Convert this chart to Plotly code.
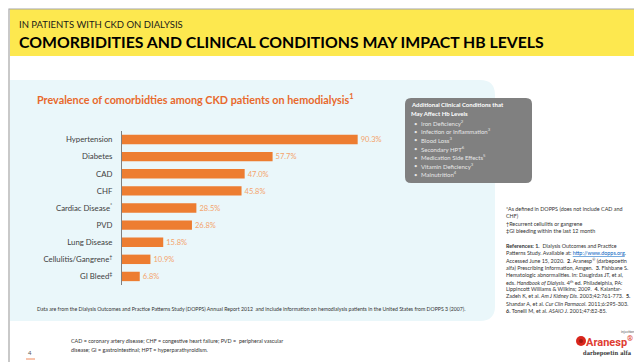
import plotly.graph_objects as go

W, H = 642, 362
FONT = "Lato"

categories = ["Hypertension", "Diabetes", "CAD", "CHF", "Cardiac Disease<sup>*</sup>",
              "PVD", "Lung Disease", "Cellulitis/Gangrene<sup>†</sup>", "GI Bleed<sup>‡</sup>"]
values = [90.3, 57.7, 47.0, 45.8, 28.5, 26.8, 15.8, 10.9, 6.8]

header_small = "IN PATIENTS WITH CKD ON DIALYSIS"
header_big = "COMORBIDITIES AND CLINICAL CONDITIONS MAY IMPACT HB LEVELS"
chart_title = "Prevalence of comorbidties among CKD patients on hemodialysis<sup>1</sup>"

box_heading = ["Additional Clinical Conditions that", "May Affect Hb Levels"]
box_items = ["Iron Deficiency<sup>2</sup>", "Infection or Inflammation<sup>3</sup>",
             "Blood Loss<sup>3</sup>", "Secondary HPT<sup>6</sup>",
             "Medication Side Effects<sup>5</sup>", "Vitamin Deficiency<sup>3</sup>",
             "Malnutrition<sup>4</sup>"]

footnotes = ["*As defined in DOPPS (does not include CAD and", "CHF)",
             "†Recurrent cellulitis or gangrene", "‡GI bleeding within the last 12 month"]

references = [
    "<b>References: 1.</b>  Dialysis Outcomes and Practice",
    "Patterns Study. Available at: <span style='color:#0563C1'><u>http://www.dopps.org</u></span>.",
    "Accessed June 15, 2020.  <b>2.</b> Aranesp<sup>®</sup> (darbepoetin",
    "alfa) Prescribing Information, Amgen.  <b>3.</b> Fishbane S.",
    "Hematologic abnormalities. In: Daugirdas JT, et al,",
    "eds. <i>Handbook of Dialysis</i>. 4<sup>th</sup> ed. Philadelphia, PA:",
    "Lippincott Williams &amp; Wilkins; 2009.  <b>4.</b> Kalantar-",
    "Zadeh K, et al. <i>Am J Kidney Dis</i>. 2003;42:761-773.  <b>5.</b>",
    "Shandar A, et al. <i>Cur Clin Parmacol</i>. 2011;6:295-303.",
    "<b>6.</b> Tonelli M, et al. <i>ASAIO J</i>. 2001;47:82-85.",
]

data_note = ("Data are from the Dialysis Outcomes and Practice Patterns Study (DOPPS) Annual Report 2012  "
             "and include information on hemodialysis patients in the United States from DOPPS 3 (2007).")
abbrev = ["CAD = coronary artery disease; CHF = congestive heart failure; PVD =  peripheral vascular",
          "disease; GI = gastrointestinal; HPT = hyperparathyroidism."]


def X(px):
    return px / W


def Y(py):
    return 1 - py / H


def rpath(x0, y0, x1, y1, r, left_round=True):
    pts = []
    if left_round:
        pts.append(f"M {X(x0 + r)},{Y(y0)}")
    else:
        pts.append(f"M {X(x0)},{Y(y0)}")
    pts.append(f"L {X(x1 - r)},{Y(y0)}")
    pts.append(f"Q {X(x1)},{Y(y0)} {X(x1)},{Y(y0 + r)}")
    pts.append(f"L {X(x1)},{Y(y1 - r)}")
    pts.append(f"Q {X(x1)},{Y(y1)} {X(x1 - r)},{Y(y1)}")
    if left_round:
        pts.append(f"L {X(x0 + r)},{Y(y1)}")
        pts.append(f"Q {X(x0)},{Y(y1)} {X(x0)},{Y(y1 - r)}")
        pts.append(f"L {X(x0)},{Y(y0 + r)}")
        pts.append(f"Q {X(x0)},{Y(y0)} {X(x0 + r)},{Y(y0)}")
    else:
        pts.append(f"L {X(x0)},{Y(y1)}")
    pts.append("Z")
    return " ".join(pts)


fig = go.Figure()
fig.add_trace(go.Bar(
    y=categories, x=values, orientation="h",
    marker=dict(color="#ED7D31", line=dict(width=0)),
    texttemplate="%{x:.1f}%", textposition="outside",
    textfont=dict(family=FONT, size=8, color="#F4A46C"),
    cliponaxis=False, hoverinfo="skip",
))

shapes = [
    dict(type="rect", xref="paper", yref="paper", x0=X(2), x1=X(636), y0=Y(48), y1=Y(1),
         fillcolor="#FDE84F", line=dict(width=0), layer="below"),
    dict(type="path", xref="paper", yref="paper", path=rpath(2, 72, 487, 313, 15, left_round=False),
         fillcolor="#EAF7FA", line=dict(width=0), layer="below"),
    dict(type="path", xref="paper", yref="paper", path=rpath(397, 90, 524, 175, 6),
         fillcolor="#808080", line=dict(width=0), layer="below"),
    dict(type="rect", xref="paper", yref="paper", x0=X(1), x1=X(637), y0=Y(360), y1=Y(1),
         fillcolor="rgba(0,0,0,0)", line=dict(width=1.2, color="#A6A6A6")),
    dict(type="line", xref="paper", yref="paper", x0=X(18), x1=X(27), y0=Y(351), y1=Y(351),
         line=dict(width=1, color="#F08A5D")),
    dict(type="circle", xref="paper", yref="paper", x0=X(568), x1=X(578), y0=Y(338), y1=Y(328),
         fillcolor="#D9261C", line=dict(width=0)),
    dict(type="circle", xref="paper", yref="paper", x0=X(571), x1=X(575), y0=Y(335), y1=Y(331),
         fillcolor="#9E1A12", line=dict(width=0)),
]

ann = []


def txt(x, y, s, size, color="#333333", bold=False, anchor="left", family=FONT):
    if bold:
        s = f"<b>{s}</b>"
    ann.append(dict(x=X(x), y=Y(y), xref="paper", yref="paper", text=s, showarrow=False,
                    xanchor=anchor, yanchor="middle", align=anchor,
                    font=dict(family=family, size=size, color=color), borderpad=0))


txt(10, 16, header_small, 9.5, "#1A1A1A")
txt(10, 34, header_big, 15.8, "#000000", bold=True)
txt(28, 91, chart_title, 10.8, "#E8692C", bold=True)

for i, s in enumerate(box_heading):
    txt(402, 97 + 8 * i, s, 6, "#FFFFFF", bold=True)
for i, s in enumerate(box_items):
    yy = 115 + 8.5 * i
    txt(405, yy, "•", 6, "#E6E6E6")
    txt(412, yy, s, 6, "#E6E6E6")

for i, s in enumerate(footnotes):
    txt(497, 201 + 7.3 * i, s, 5.4, "#333333")
for i, s in enumerate(references):
    txt(497, 238 + 7.2 * i, s, 5.4, "#333333")

txt(28, 301, data_note, 5.2, "#333333")
for i, s in enumerate(abbrev):
    txt(62, 333 + 9 * i, s, 5.4, "#333333")
txt(22, 344, "4", 6, "#555555", anchor="center")

txt(626, 333, "Aranesp<sup>®</sup>", 11, "#E03C31", bold=True, anchor="right", family="Roboto")
txt(625, 345, "darbepoetin alfa", 5.8, "#3A3A3A", bold=True, anchor="right",
    family="DejaVu Serif Condensed")
txt(619, 324, "injection", 3.5, "#555555", anchor="center")

fig.update_layout(
    width=W, height=H, margin=dict(l=0, r=0, t=0, b=0, autoexpand=False),
    paper_bgcolor="white", plot_bgcolor="rgba(0,0,0,0)",
    showlegend=False, bargap=0.45,
    shapes=shapes, annotations=ann,
    xaxis=dict(domain=[X(114), X(375)], range=[0, 100], visible=False, fixedrange=True,
               automargin=False),
    yaxis=dict(domain=[Y(277), Y(123)], autorange="reversed", showline=True,
               linecolor="#7F7F7F", linewidth=1, ticks="", showgrid=False,
               tickfont=dict(family=FONT, size=7.8, color="#404040"),
               ticklabelstandoff=7, fixedrange=True, automargin=False),
    font=dict(family=FONT),
)

fig.write_html("out.html")
